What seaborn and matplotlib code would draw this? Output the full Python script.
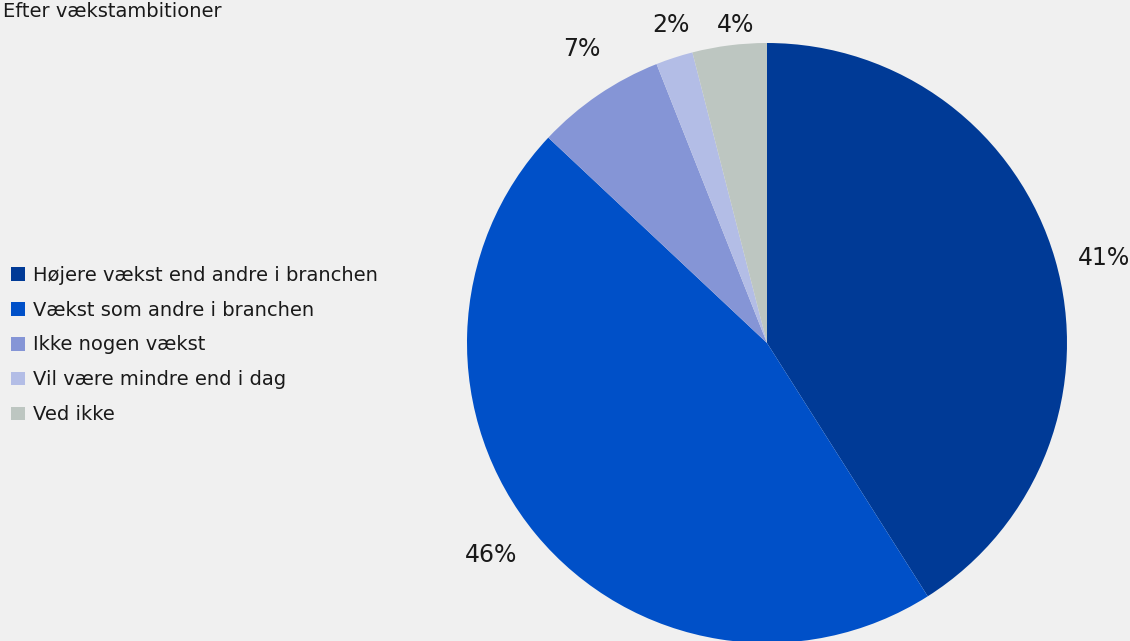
import numpy as np
import matplotlib
matplotlib.use("Agg")
import matplotlib.pyplot as plt
import seaborn as sns

categories = [
    "Højere vækst end andre i branchen",
    "Vækst som andre i branchen",
    "Ikke nogen vækst",
    "Vil være mindre end i dag",
    "Ved ikke",
]
shares = [41, 46, 7, 2, 4]
colors = ["#003A96", "#0050C8", "#8595D6", "#B3BDE6", "#BDC6C1"]
title = "Efter vækstambitioner"

BG = "#F0F0F0"
sns.set_theme(style="white", rc={"figure.facecolor": BG, "axes.facecolor": BG})
plt.rcParams["font.family"] = ["DejaVu Sans"]

W, H = 1130, 641
fig = plt.figure(figsize=(W / 100, H / 100), dpi=100)

# pie axes: centre (767, 343) px, radius 300 px
cx, cy, r = 767, 343, 300
ax = fig.add_axes([(cx - r) / W, (H - cy - r) / H, 2 * r / W, 2 * r / H])
ax.axis("off")

wedges, _ = ax.pie(
    shares, colors=colors, startangle=90, counterclock=False, radius=1.0,
    wedgeprops=dict(linewidth=0), center=(0, 0),
)
ax.set_xlim(-1, 1)
ax.set_ylim(-1, 1)
for w in wedges:
    w.set_clip_on(False)

# percentage labels placed outside each wedge, kept below the top edge
top_limit = (cy - 25) / r
for w, v in zip(wedges, shares):
    ang = np.deg2rad((w.theta1 + w.theta2) / 2 - 2.0)
    x, y = 1.16 * np.cos(ang), 1.16 * np.sin(ang)
    y = min(y, top_limit)
    ax.text(x, y, f"{v}%", ha="center", va="center", fontsize=17,
            color="#1a1a1a", clip_on=False)

leg = fig.legend(
    wedges, categories, loc="center left", bbox_to_anchor=(0.003, 1 - 345 / H),
    frameon=False, fontsize=14, handlelength=0.7, handleheight=0.7,
    handletextpad=0.4, labelspacing=0.82, borderaxespad=0,
)
for t in leg.get_texts():
    t.set_color("#1a1a1a")

fig.text(3 / W, 1 - 2 / H, title, ha="left", va="top", fontsize=14,
         color="#1a1a1a")

fig.savefig("out.png", dpi=100, facecolor=BG)
